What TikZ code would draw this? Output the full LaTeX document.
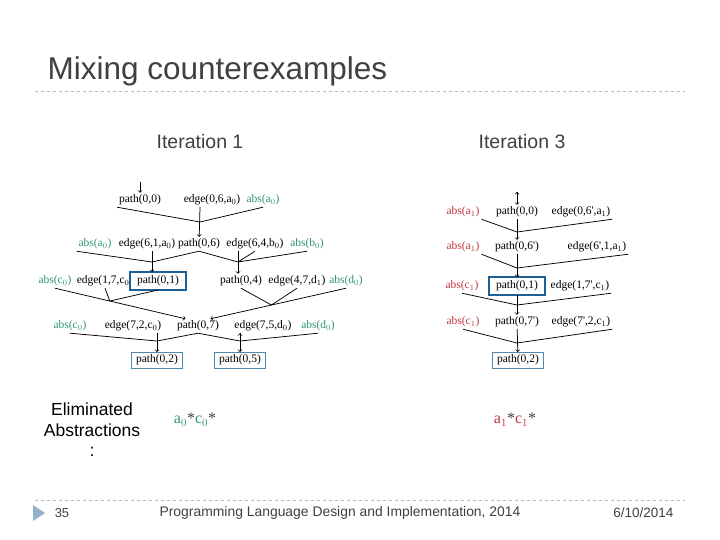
\documentclass[tikz,border=0pt]{standalone}
\usepackage{fontspec}
\setmainfont{Liberation Sans}
\newfontfamily\treefont{Liberation Serif}
\usetikzlibrary{calc}
\definecolor{absgreen}{RGB}{46,150,112}
\definecolor{absred}{RGB}{192,52,62}
\definecolor{hitblue}{RGB}{28,96,150}
\definecolor{goalblue}{RGB}{80,135,170}
\definecolor{slidegray}{RGB}{64,64,64}
\definecolor{rulegray}{RGB}{185,185,185}
\definecolor{markblue}{RGB}{150,176,202}
\begin{document}
\begin{tikzpicture}[x=1pt, y=-1pt,
    lbl/.style={font=\treefont\fontsize{11.5}{13}\selectfont, inner sep=1pt, outer sep=1pt},
    gabs/.style={lbl, text=absgreen},
    rabs/.style={lbl, text=absred},
    hit/.style={lbl, draw=hitblue, fill=white, line width=2.8pt, minimum width=56pt, minimum height=18pt, outer sep=0pt},
    goal/.style={lbl, draw=goalblue, line width=0.8pt, minimum width=51pt, minimum height=16pt, outer sep=0pt},
    slide/.style={text=slidegray, font=\fontsize{#1}{#1}\selectfont},
    sep/.style={dashed, rulegray, line width=0.6pt},
    rule/.style={line width=0.75pt}]
  \useasboundingbox (0, 0) rectangle (720, 540);

  \draw (44, 80) node [slide=31.5, anchor=base west] (title) {Mixing counterexamples};
  \draw [sep] (35, 91) -- (685, 91);
  \draw (200, 142) node [slide=19.5] (it1) {Iteration 1}
        (522, 142) node [slide=19.5] (it3) {Iteration 3};

  % iteration 1
  \draw (140, 200) node [lbl] (p00) {path(0,0)}
        (212, 200) node [lbl] (e06) {edge(0,6,a$_0$)}
        (263, 200) node [gabs] (abA) {abs(a$_0$)}
        (95, 244) node [gabs] (abA1) {abs(a$_0$)}
        (147, 244) node [lbl] (e61) {edge(6,1,a$_0$)}
        (199, 244) node [lbl] (p06) {path(0,6)}
        (255, 244) node [lbl] (e64) {edge(6,4,b$_0$)}
        (307, 244) node [gabs] (abB) {abs(b$_0$)}
        (55, 281) node [gabs] (abC) {abs(c$_0$)}
        (105, 281) node [lbl] (e17) {edge(1,7,c$_0$)}
        (158, 281) node [hit] (p01) {path(0,1)}
        (241, 281) node [lbl] (p04) {path(0,4)}
        (297, 281) node [lbl] (e47) {edge(4,7,d$_1$)}
        (346, 281) node [gabs] (abD) {abs(d$_0$)}
        (70, 326) node [gabs] (abC1) {abs(c$_0$)}
        (133, 326) node [lbl] (e72) {edge(7,2,c$_0$)}
        (198, 326) node [lbl] (p07) {path(0,7)}
        (263, 326) node [lbl] (e75) {edge(7,5,d$_0$)}
        (318, 326) node [gabs] (abD1) {abs(d$_0$)}
        (157, 360) node [goal] (p02) {path(0,2)}
        (240, 360) node [goal] (p05) {path(0,5)};
  \coordinate (in1) at (140, 182);
  \coordinate (j1) at (200, 222);
  \coordinate (j2) at (152, 262);
  \coordinate (j3) at (238, 262);
  \coordinate (j4) at ($(abC.south)!0.42!(p07.150)$);
  \coordinate (j5) at ($(abD.south)!0.55!(p07.30)$);
  \coordinate (j6) at (157, 341);
  \coordinate (j7) at (240, 341);
  \draw [rule] (p00.south west) -- (j1) -- (abA.south)
        (abA1.south west) -- (j2) -- (p06.south)
        (p06.south) -- (j3) -- (abB.south)
        (e64.south) -- (j3)
        (e17.south) -- (j4) -- (p01.south)
        (p04.south) -- (j5) -- (e47.south)
        (abC1.south) -- (j6) -- (p07.south)
        (p07.south) -- (j7) -- (abD1.south);
  \draw [rule, ->] (in1) edge (p00)
             (e06.south -| j1) edge (p06)
             (e61.south -| j2) edge (p01.north -| j2)
             (e64.south -| j3) edge (p04.north -| j3)
             (abC.south) edge (p07.150)
             (abD.south) edge (p07.30)
             (e72.south -| j6) edge (p02)
             (e75.south -| j7) edge (p05);

  % iteration 3
  \draw (463, 212) node [rabs] (rabA) {abs(a$_1$)}
        (517, 212) node [lbl] (rp00) {path(0,0)}
        (581, 212) node [lbl] (re06) {edge(0,6',a$_1$)}
        (463, 247) node [rabs] (rabA1) {abs(a$_1$)}
        (517, 247) node [lbl] (rp06) {path(0,6')}
        (597, 247) node [lbl] (re61) {edge(6',1,a$_1$)}
        (462, 286) node [rabs] (rabC) {abs(c$_1$)}
        (517, 286) node [hit] (rp01) {path(0,1)}
        (580, 286) node [lbl] (re17) {edge(1,7',c$_1$)}
        (463, 322) node [rabs] (rabC1) {abs(c$_1$)}
        (517, 322) node [lbl] (rp07) {path(0,7')}
        (581, 322) node [lbl] (re72) {edge(7',2,c$_1$)}
        (518, 360) node [goal] (rp02) {path(0,2)};
  \coordinate (in3) at (517, 192);
  \coordinate (j8) at (517, 232);
  \coordinate (j9) at (517, 268);
  \coordinate (j10) at (517, 305);
  \coordinate (j11) at (517, 343);
  \draw [rule] (rabA.south east) -- (j8) -- (re06.south east)
        (rabA1.south east) -- (j9) -- (re61.south east)
        (rabC.south) -- (j10) -- (re17.south east)
        (rabC1.south) -- (j11) -- (re72.south east);
  \draw [rule, ->] (in3) edge (rp00)
             (rp00) edge (rp06)
             (rp06) edge (rp01)
             (rp01) edge (rp07)
             (rp07) edge (rp02);

  \draw (92, 430) node [slide=17.5, text=black, align=center] (elim) {Eliminated\\[3pt]Abstractions\\[3pt]:}
        (195, 420) node [font=\treefont\fontsize{16}{16}\selectfont, text=slidegray] (abs1)
          {\textcolor{absgreen}{a$_0$}*\textcolor{absgreen}{c$_0$}*}
        (515, 420) node [font=\treefont\fontsize{16}{16}\selectfont, text=slidegray] (abs3)
          {\textcolor{absred}{a$_1$}*\textcolor{absred}{c$_1$}*};

  \draw [sep] (35, 500) -- (685, 500);
  \fill [markblue] (33, 505) -- (45, 513) -- (33, 521) -- cycle;
  \draw (62, 513) node [slide=13] (num) {35}
        (340, 513) node [slide=13.9] (conf) {Programming Language Design and Implementation, 2014}
        (677, 513) node [slide=13.5, anchor=east] (date) {6/10/2014};
\end{tikzpicture}
\end{document}
